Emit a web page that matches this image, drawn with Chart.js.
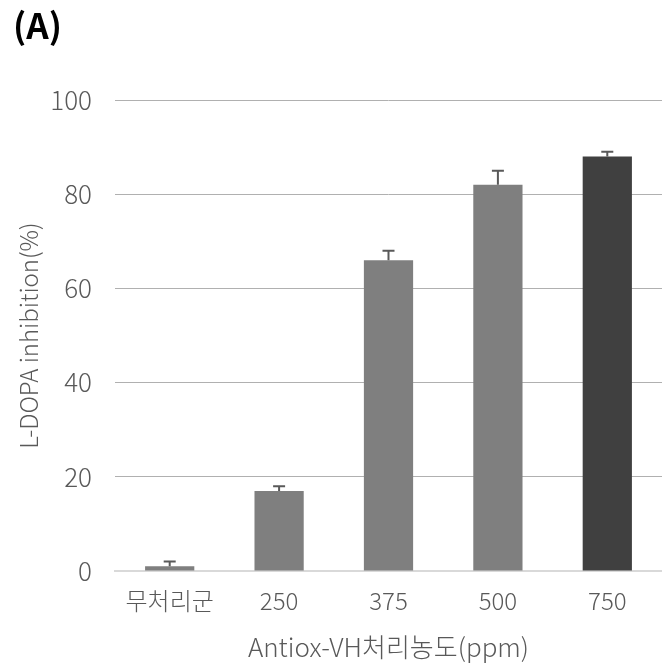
<!DOCTYPE html>
<html>
<head>
<meta charset="utf-8">
<script src="https://cdn.jsdelivr.net/npm/chart.js@4/dist/chart.umd.min.js"></script>
<style>
  html, body { margin: 0; padding: 0; background: #fff; }
  #wrap { position: relative; width: 662px; height: 663px; }
  #label {
    position: absolute; left: 13px; top: -2px; line-height: 1.2;
    font: bold 35px "Noto Sans CJK KR", "Noto Sans", sans-serif; color: #000;
  }
</style>
</head>
<body>
<div id="wrap">
  <canvas id="chart" width="662" height="663"></canvas>
  <div id="label">(A)</div>
</div>
<script>
const categories = ["무처리군", "250", "375", "500", "750"];
const inhibition = [1, 17, 66, 82, 88];
const errors = [1, 1, 2, 3, 1];
const barColours = ["#7f7f7f", "#7f7f7f", "#7f7f7f", "#7f7f7f", "#404040"];

const font = "'Noto Sans CJK KR', 'Noto Sans', sans-serif";
const textColour = "#595959";

const errorBars = {
  id: "errorBars",
  afterDatasetsDraw(chart) {
    const ctx = chart.ctx;
    const meta = chart.getDatasetMeta(0);
    const y = chart.scales.y;
    ctx.save();
    ctx.strokeStyle = "#595959";
    ctx.lineWidth = 2;
    meta.data.forEach((bar, i) => {
      const top = y.getPixelForValue(inhibition[i] + errors[i]);
      const base = y.getPixelForValue(inhibition[i]);
      ctx.beginPath();
      ctx.moveTo(bar.x, base);
      ctx.lineTo(bar.x, top);
      ctx.moveTo(bar.x - 6, top);
      ctx.lineTo(bar.x + 6, top);
      ctx.stroke();
    });
    ctx.restore();
  }
};

new Chart(document.getElementById("chart"), {
  type: "bar",
  data: {
    labels: categories,
    datasets: [
      {
        label: "L-DOPA inhibition",
        data: inhibition,
        backgroundColor: barColours,
        barPercentage: 0.45,
        categoryPercentage: 1
      }
    ]
  },
  options: {
    responsive: false,
    animation: false,
    layout: { padding: { top: 100, right: 0, left: 0, bottom: 0 } },
    plugins: {
      legend: { display: false },
      tooltip: { enabled: false }
    },
    scales: {
      x: {
        grid: { display: false, drawTicks: false },
        border: { color: "#d9d9d9", width: 2 },
        ticks: { color: textColour, font: { family: font, size: 24, weight: 300 }, padding: 15 },
        title: {
          display: true,
          text: "Antiox-VH처리농도(ppm)",
          color: textColour,
          font: { family: font, size: 26, weight: 300 },
          padding: { top: 10, bottom: 0 }
        },
        afterFit(scale) { scale.height = 92; }
      },
      y: {
        min: 0,
        max: 100,
        ticks: { stepSize: 20, color: textColour, font: { family: font, size: 26, weight: 300 }, padding: 23 },
        grid: { color: "#b0b0b0", lineWidth: 1, drawTicks: false },
        border: { display: false },
        title: {
          display: true,
          text: "L-DOPA inhibition(%)",
          color: textColour,
          font: { family: font, size: 24, weight: 300 },
          padding: { top: 14, bottom: 0 }
        },
        afterFit(scale) { scale.width = 115; }
      }
    }
  },
  plugins: [errorBars]
});
</script>
</body>
</html>
